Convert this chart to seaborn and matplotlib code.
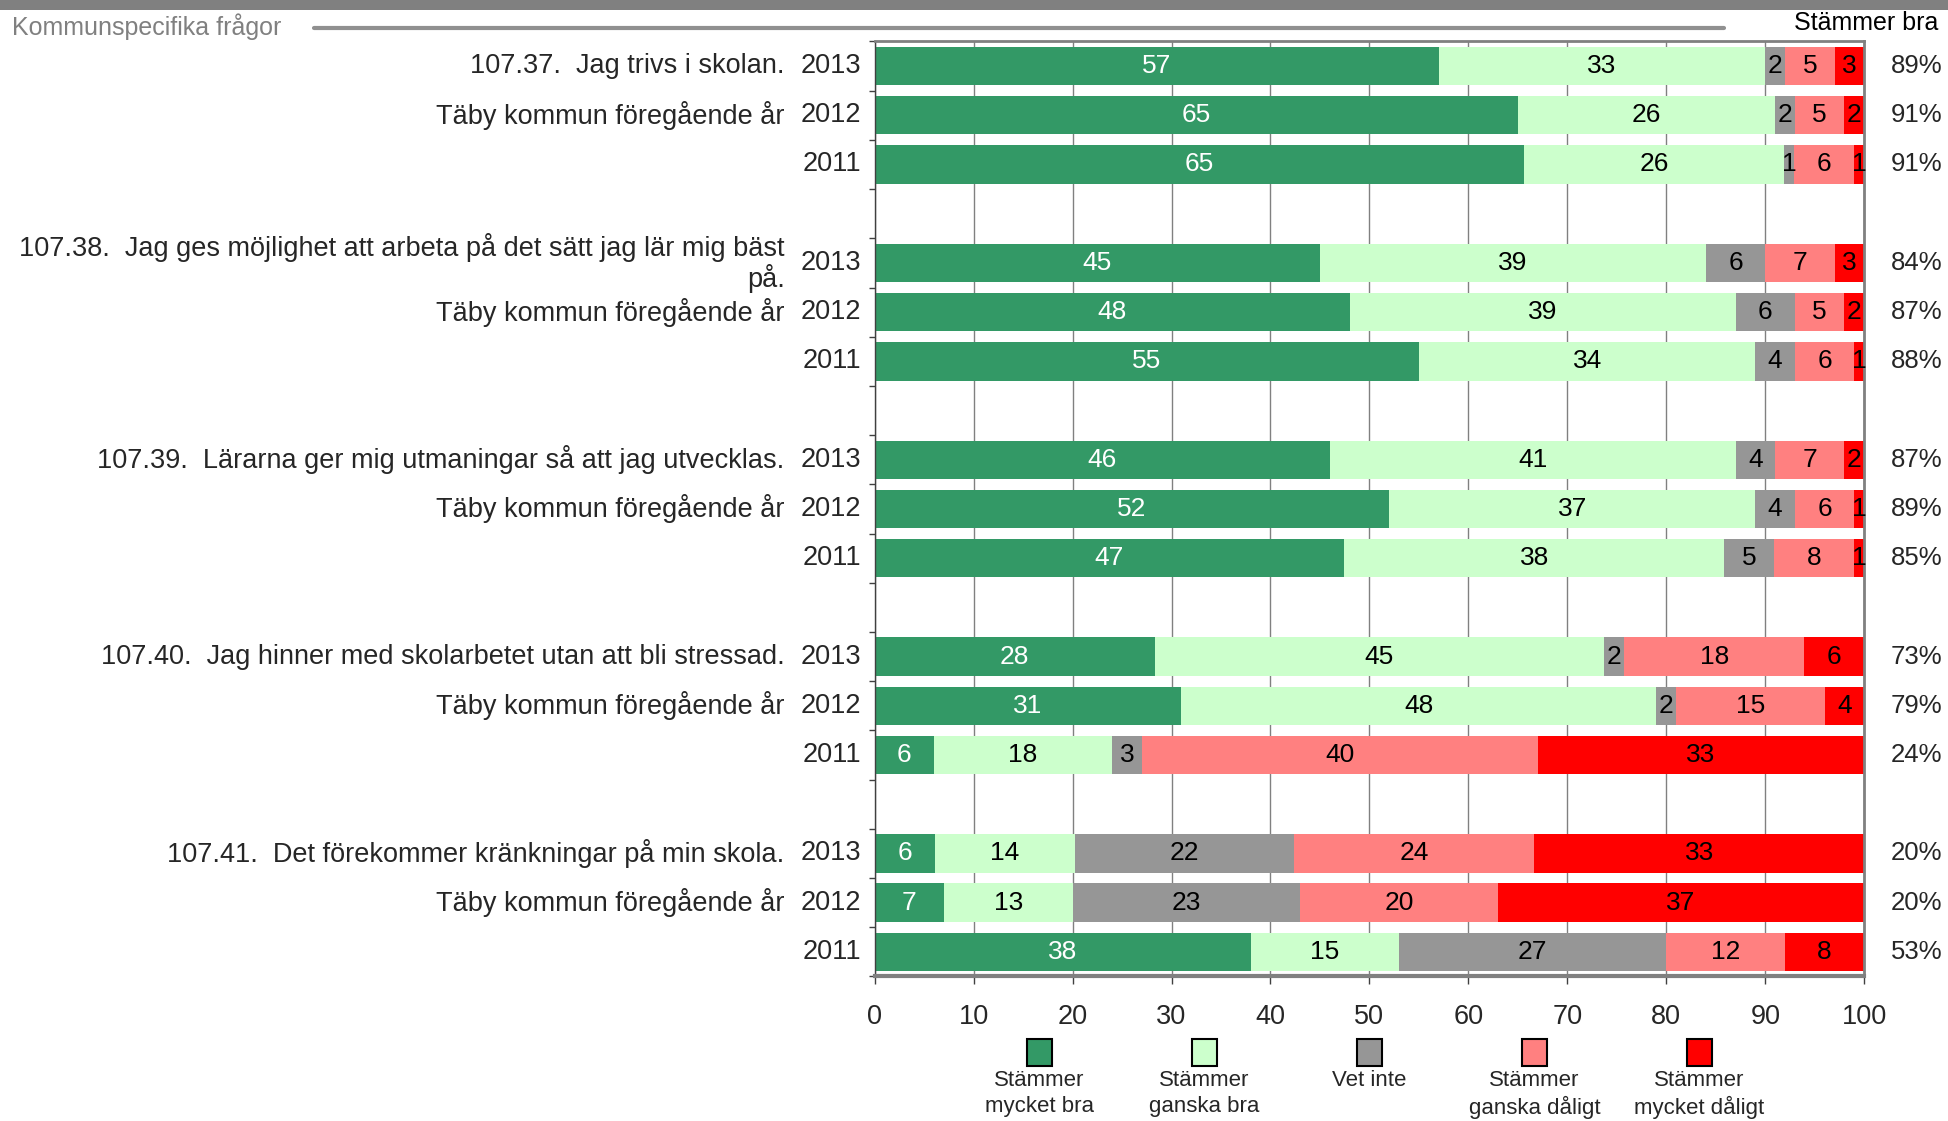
import matplotlib
matplotlib.use("Agg")

import matplotlib.pyplot as plt  # noqa: E402
import matplotlib.transforms as mtransforms  # noqa: E402
from matplotlib.patches import Rectangle  # noqa: E402
from matplotlib.ticker import FixedLocator  # noqa: E402
import numpy as np  # noqa: E402
import pandas as pd  # noqa: E402
import seaborn as sns  # noqa: E402

sns.set_theme(style="white")
plt.rcParams["font.family"] = ["Liberation Sans", "DejaVu Sans"]

# --------------------------------------------------------------------------- #
# Data (15 rows: 5 questions x 3 years)
# --------------------------------------------------------------------------- #
QUESTIONS = [
    "107.37.  Jag trivs i skolan.",
    "107.38.  Jag ges möjlighet att arbeta på det sätt jag lär mig bäst\npå.",
    "107.39.  Lärarna ger mig utmaningar så att jag utvecklas.",
    "107.40.  Jag hinner med skolarbetet utan att bli stressad.",
    "107.41.  Det förekommer kränkningar på min skola.",
]
ROW_LABELS = ["", "Täby kommun föregående år", ""]
YEARS = ["2013", "2012", "2011"]

CATEGORIES = [
    "Stämmer\nmycket bra",
    "Stämmer\nganska bra",
    "Vet inte",
    "Stämmer\nganska dåligt",
    "Stämmer\nmycket dåligt",
]
COLORS = ["#339966", "#CCFFCC", "#969696", "#FF8080", "#FF0000"]

mycket_bra = [57, 65, 65, 45, 48, 55, 46, 52, 47, 28, 31, 6, 6, 7, 38]
ganska_bra = [33, 26, 26, 39, 39, 34, 41, 37, 38, 45, 48, 18, 14, 13, 15]
vet_inte = [2, 2, 1, 6, 6, 4, 4, 4, 5, 2, 2, 3, 22, 23, 27]
ganska_daligt = [5, 5, 6, 7, 5, 6, 7, 6, 8, 18, 15, 40, 24, 20, 12]
mycket_daligt = [3, 2, 1, 3, 2, 1, 2, 1, 1, 6, 4, 33, 33, 37, 8]
stammer_bra = [89, 91, 91, 84, 87, 88, 87, 89, 85, 73, 79, 24, 20, 20, 53]

XTICKS = [0, 10, 20, 30, 40, 50, 60, 70, 80, 90, 100]

FS = 19.5  # main label size

# --------------------------------------------------------------------------- #
# Layout: each question takes 3 bar slots plus one blank slot
# --------------------------------------------------------------------------- #
vals = np.array([mycket_bra, ganska_bra, vet_inte, ganska_daligt, mycket_daligt]).T
widths = vals / vals.sum(axis=1, keepdims=True) * 100
cums = np.cumsum(widths, axis=1)
pos = np.array([g * 4 + r for g in range(len(QUESTIONS)) for r in range(3)])

fig = plt.figure(figsize=(19.48, 11.21), dpi=100)
ax = fig.add_axes([0.449, 0.129, 0.508, 0.834])

# stacked bars: draw cumulative totals from the right-most segment down
for k in range(len(CATEGORIES) - 1, -1, -1):
    df = pd.DataFrame({"cum": cums[:, k], "pos": pos})
    sns.barplot(
        data=df, x="cum", y="pos", orient="y", native_scale=True,
        color=COLORS[k], saturation=1, errorbar=None, width=0.78,
        linewidth=0, ax=ax, zorder=2,
    )

# value labels inside the segments
for i in range(len(pos)):
    for k in range(len(CATEGORIES)):
        ax.text(
            cums[i, k] - widths[i, k] / 2, pos[i], str(vals[i, k]),
            ha="center", va="center", fontsize=19,
            color="white" if k == 0 else "black", zorder=3,
        )

ax.set_xlim(0, 100)
ax.set_ylim(len(QUESTIONS) * 4 - 1.5, -0.5)
ax.set_xlabel("")
ax.set_ylabel("")

# axes styling
ax.set_xticks(XTICKS)
ax.set_xticklabels([str(t) for t in XTICKS], fontsize=FS)
ax.xaxis.grid(True, color="#808080", lw=1)
ax.set_axisbelow(True)
ax.tick_params(axis="x", bottom=True, direction="out", length=6,
               width=1, color="#404040", pad=14)

ax.set_yticks(pos)
ax.set_yticklabels(YEARS * len(QUESTIONS), fontsize=FS, va="center")
ax.tick_params(axis="y", which="major", length=0, pad=10)
ax.yaxis.set_minor_locator(FixedLocator(np.arange(-0.5, len(QUESTIONS) * 4 - 1, 1)))
ax.tick_params(axis="y", which="minor", left=True, direction="out",
               length=4, width=1, color="#404040")

for side in ["top", "right"]:
    ax.spines[side].set_color("#808080")
    ax.spines[side].set_linewidth(2)
ax.spines["left"].set_color("#404040")
ax.spines["left"].set_linewidth(1)
ax.spines["bottom"].set_color("#808080")
ax.spines["bottom"].set_linewidth(3)

# question / comparison labels left of the years
ytrans = mtransforms.blended_transform_factory(ax.transAxes, ax.transData)
for g, q in enumerate(QUESTIONS):
    for r in range(3):
        label = q if r == 0 else ROW_LABELS[r]
        if label:
            ax.text(-0.091, g * 4 + r, label, transform=ytrans,
                    ha="right", va="center", fontsize=FS,
                    multialignment="right", linespacing=1.1)

# "Stämmer bra" percentages on the right
for i in range(len(pos)):
    ax.text(1.027, pos[i], f"{stammer_bra[i]}%", transform=ytrans,
            ha="left", va="center", fontsize=18.5)

# legend: boxes under the axis with labels below
xtrans = mtransforms.blended_transform_factory(ax.transData, ax.transAxes)
for k, (cat, col) in enumerate(zip(CATEGORIES, COLORS)):
    cx = (k + 1) * 100 / 6
    ax.add_patch(Rectangle((cx - 1.25, -0.0963), 2.5, 0.029, transform=xtrans,
                           facecolor=col, edgecolor="black", lw=1.5,
                           clip_on=False))
    ax.text(cx, -0.1, cat, transform=xtrans, ha="center", va="top",
            fontsize=16, linespacing=1.3)

# header
fig.add_artist(Rectangle((0, 1 - 10 / 1121), 1, 10 / 1121,
                         transform=fig.transFigure, facecolor="#808080",
                         edgecolor="none"))
fig.text(12 / 1948, 1 - 27 / 1121, "Kommunspecifika frågor", fontsize=18,
         color="#808080", ha="left", va="center")
fig.add_artist(plt.Line2D([314 / 1948, 1724 / 1948],
                          [1 - 28 / 1121, 1 - 28 / 1121],
                          transform=fig.transFigure, color="#909090", lw=3))
fig.text(1938 / 1948, 1 - 23 / 1121, "Stämmer bra", fontsize=18,
         color="black", ha="right", va="center")

fig.savefig("out.png", dpi=100)
